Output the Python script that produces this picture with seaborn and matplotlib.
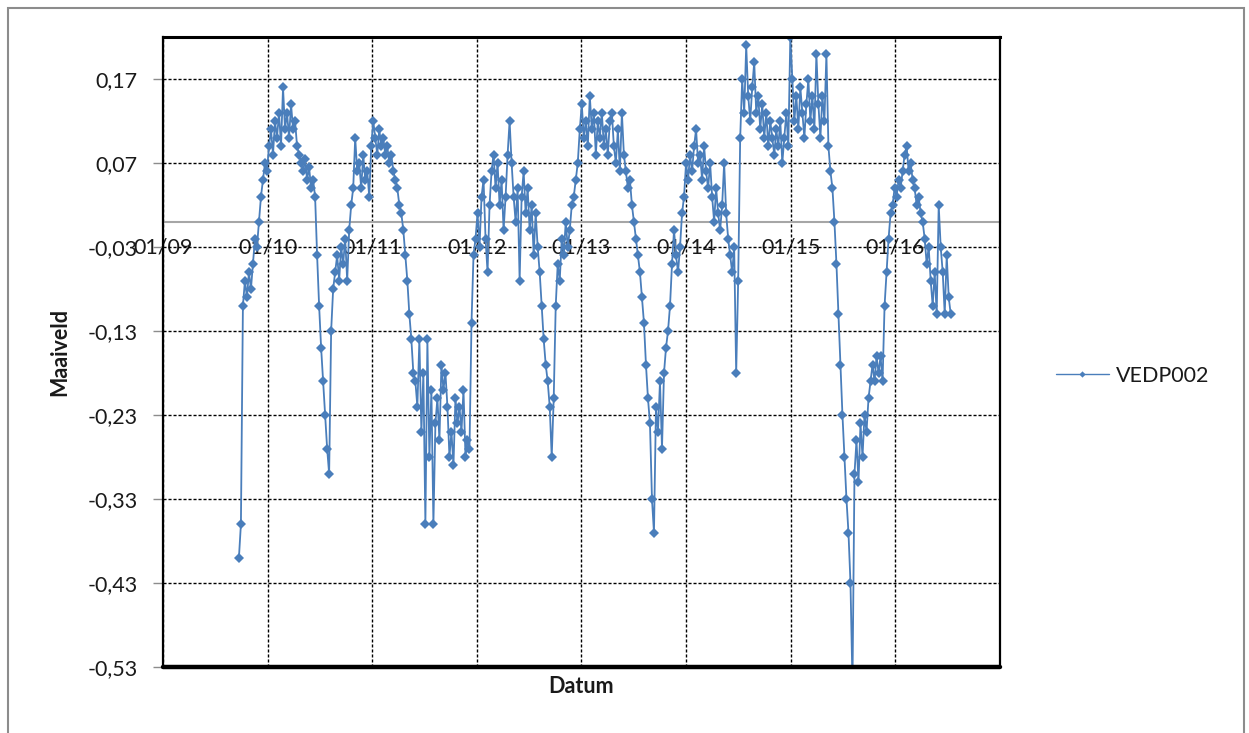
import numpy as np
import pandas as pd
import matplotlib
matplotlib.use("Agg")
import matplotlib.pyplot as plt
import matplotlib.dates as mdates
from matplotlib.ticker import FuncFormatter
import seaborn as sns

# ---------------- data (weekly readings) ----------------
series_name = "VEDP002"
start_date = "2009-09-23"
step = "7D"

lvl_2009_2010 = [-0.40, -0.36, -0.10, -0.07, -0.09, -0.06, -0.08, -0.05, -0.02, -0.03,
                 0.00, 0.03, 0.05, 0.07, 0.06, 0.09, 0.11, 0.08, 0.12, 0.10,
                 0.13, 0.09, 0.16, 0.11, 0.13, 0.10, 0.14, 0.11, 0.12, 0.09,
                 0.08, 0.07, 0.06, 0.075, 0.05, 0.065, 0.04, 0.05, 0.03, -0.04,
                 -0.10, -0.15, -0.19, -0.23, -0.27, -0.30, -0.13, -0.08]

lvl_2010_2011 = [-0.06, -0.04, -0.07, -0.03, -0.05, -0.02, -0.07, -0.01, 0.02, 0.04,
                 0.10, 0.06, 0.07, 0.04, 0.08, 0.05, 0.06, 0.03, 0.09, 0.12,
                 0.10, 0.08, 0.11, 0.09, 0.10, 0.08, 0.09, 0.07, 0.08, 0.06,
                 0.05, 0.04, 0.02, 0.01, -0.01, -0.04, -0.07, -0.11, -0.14, -0.18,
                 -0.19, -0.22, -0.14, -0.25, -0.18, -0.36, -0.14, -0.28, -0.20, -0.36,
                 -0.24, -0.21, -0.26, -0.17, -0.20, -0.18, -0.22, -0.28, -0.25, -0.29,
                 -0.21, -0.24, -0.22, -0.25, -0.20, -0.28, -0.26, -0.27]

lvl_2011_2012 = [-0.12, -0.04, -0.02, 0.01, -0.03, 0.03, 0.05, -0.02, -0.06, 0.02,
                 0.06, 0.08, 0.04, 0.07, 0.02, 0.05, -0.01, 0.03, 0.08, 0.12,
                 0.07, 0.03, 0.00, 0.04, -0.07, 0.03, 0.06, 0.01, 0.04, -0.01,
                 0.02, -0.04, 0.01, -0.03, -0.06, -0.10, -0.14, -0.17, -0.19, -0.22,
                 -0.28, -0.21, -0.10]

lvl_2012_2013 = [-0.05, -0.07, -0.02, -0.04, 0.00, -0.03, -0.01, 0.02, 0.03, 0.05,
                 0.07, 0.11, 0.14, 0.10, 0.12, 0.09, 0.15, 0.11, 0.13, 0.08,
                 0.12, 0.10, 0.13, 0.09, 0.11, 0.08, 0.12, 0.13, 0.09, 0.07,
                 0.11, 0.06, 0.13, 0.08, 0.06, 0.04, 0.05, 0.02, 0.00, -0.02,
                 -0.04, -0.06, -0.09, -0.12, -0.17, -0.21, -0.24, -0.33, -0.37, -0.22]

lvl_2013_2014 = [-0.25, -0.19, -0.27, -0.18, -0.15, -0.13, -0.10, -0.05, -0.01, -0.04,
                 -0.06, -0.03, 0.01, 0.03, 0.07, 0.05, 0.08, 0.06, 0.09, 0.11,
                 0.07, 0.08, 0.05, 0.09, 0.06, 0.04, 0.07, 0.03, 0.00, 0.04,
                 0.01, -0.01, 0.02, 0.07, 0.01, -0.02, -0.04, -0.06, -0.03, -0.18,
                 -0.07]

lvl_2014_2015 = [0.10, 0.17, 0.13, 0.21, 0.15, 0.12, 0.16, 0.19, 0.13, 0.15,
                 0.11, 0.14, 0.10, 0.13, 0.09, 0.12, 0.10, 0.08, 0.11, 0.09,
                 0.12, 0.07, 0.10, 0.13, 0.09, 0.22, 0.17, 0.12, 0.15, 0.11,
                 0.16, 0.13, 0.10, 0.14, 0.17, 0.12, 0.15, 0.11, 0.20, 0.14,
                 0.10, 0.15, 0.12, 0.20, 0.09, 0.06, 0.04, 0.00, -0.05]

lvl_2015_2016 = [-0.11, -0.17, -0.23, -0.28, -0.33, -0.37, -0.43, -0.55, -0.30, -0.26,
                 -0.31, -0.24, -0.28, -0.23, -0.25, -0.21, -0.19, -0.17, -0.19, -0.16,
                 -0.18, -0.16, -0.19, -0.10, -0.06, -0.02, 0.01, 0.02, 0.04, 0.03,
                 0.05, 0.04, 0.06, 0.08, 0.09, 0.06, 0.07, 0.05, 0.04, 0.02,
                 0.03, 0.01, 0.00, -0.02, -0.05, -0.03, -0.07, -0.10, -0.06, -0.11,
                 0.02, -0.03, -0.06, -0.11, -0.04, -0.09, -0.11]

y_ticks = [0.17, 0.07, -0.03, -0.13, -0.23, -0.33, -0.43, -0.53]
x_tick_dates = ["2009-01-01", "2010-01-01", "2011-01-01", "2012-01-01",
                "2013-01-01", "2014-01-01", "2015-01-01", "2016-01-01"]
x_range = ["2009-01-01", "2017-01-01"]
y_range = [-0.53, 0.22]

values = (lvl_2009_2010 + lvl_2010_2011 + lvl_2011_2012 + lvl_2012_2013
          + lvl_2013_2014 + lvl_2014_2015 + lvl_2015_2016)
dates = pd.date_range(start_date, periods=len(values), freq=step)
df = pd.DataFrame({"Datum": dates, "Maaiveld": values})

# ---------------- style ----------------
sns.set_style("white")
plt.rcParams["font.family"] = ["Lato", "DejaVu Sans"]
FS = 15.5
TXT = "#1a1a1a"
BLUE = "#4A7EBB"

W, H = 1249, 733
fig = plt.figure(figsize=(W / 100, H / 100), dpi=100)
ax = fig.add_axes([163 / W, 66 / H, 837 / W, 630 / H])

sns.lineplot(data=df, x="Datum", y="Maaiveld", ax=ax, color=BLUE, linewidth=1.3,
             marker="D", markersize=4.6, markeredgewidth=0, label=series_name,
             sort=False, estimator=None, zorder=2)

ax.set_xlim(pd.to_datetime(x_range[0]), pd.to_datetime(x_range[1]))
ax.set_ylim(*y_range)

ax.set_yticks(y_ticks)
ax.yaxis.set_major_formatter(FuncFormatter(lambda v, p: f"{v:.2f}".replace(".", ",")))
ax.set_xticks(pd.to_datetime(x_tick_dates))
ax.xaxis.set_major_formatter(mdates.DateFormatter("%m/%y"))

ax.set_axisbelow(True)
ax.grid(True, color="black", linestyle=(0, (2.2, 1.4)), linewidth=1.0)

# x axis crosses at 0 (grey), plot border in black
ax.spines["bottom"].set_position(("data", 0))
ax.spines["bottom"].set_color("#A6A6A6")
ax.spines["bottom"].set_linewidth(1.5)
ax.spines["bottom"].set_zorder(1)
for s, lw in (("left", 1.6), ("right", 1.6), ("top", 2.2)):
    ax.spines[s].set_color("black")
    ax.spines[s].set_linewidth(lw)
ax.axhline(y_range[0], color="black", linewidth=3.2, clip_on=False, zorder=3)

ax.tick_params(axis="x", length=0, pad=11, labelsize=FS, labelcolor=TXT)
ax.tick_params(axis="y", left=True, length=7, width=1, color="#8C8C8C", pad=11,
               labelsize=FS, labelcolor=TXT)

ax.set_xlabel("Datum", fontsize=FS, fontweight="bold", color=TXT)
ax.set_ylabel("Maaiveld", fontsize=FS, fontweight="bold", color=TXT)
ax.xaxis.set_label_coords(0.5, -0.014)
ax.yaxis.set_label_coords(-0.111, 0.5)

leg = ax.legend(loc="center left", bbox_to_anchor=(1056 / W, 1 - 376 / H),
                bbox_transform=fig.transFigure, frameon=False, fontsize=FS,
                handlelength=2.45, handletextpad=0.35, borderpad=0, borderaxespad=0)
for h in leg.legend_handles:
    h.set_markersize(3.2)
    h.set_linewidth(1.0)
for t in leg.get_texts():
    t.set_color(TXT)

# outer chart border
fig.add_artist(plt.Rectangle((8 / W, -0.01), (1244 - 8) / W, 1 - 8 / H + 0.01,
                             transform=fig.transFigure, fill=False,
                             edgecolor="#8C8C8C", linewidth=1.5))

fig.savefig("out.png", dpi=100)
